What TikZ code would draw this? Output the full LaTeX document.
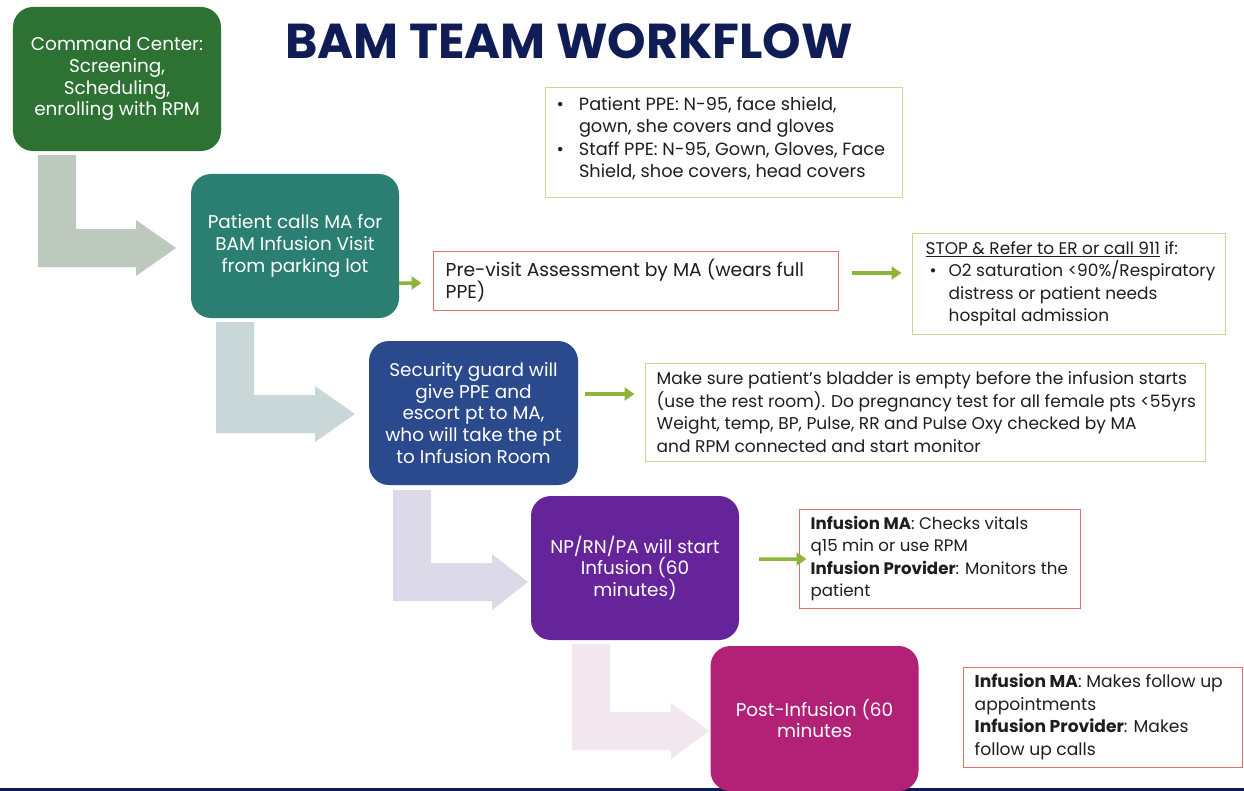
\documentclass[tikz,border=0pt]{standalone}
\usepackage{fontspec}
\setmainfont{Poppins}
\usetikzlibrary{calc,arrows.meta}

\definecolor{cmdgreen}{HTML}{2E7233}
\definecolor{callteal}{HTML}{2A7F72}
\definecolor{guardnavy}{HTML}{2B4A8E}
\definecolor{infpurple}{HTML}{66249B}
\definecolor{postmagenta}{HTML}{B22176}
\definecolor{titlenavy}{HTML}{101C56}
\definecolor{flowA}{HTML}{BEC9BE}
\definecolor{flowB}{HTML}{C9D7D8}
\definecolor{flowC}{HTML}{DCD9E8}
\definecolor{flowD}{HTML}{F2E7EE}
\definecolor{arrowgreen}{HTML}{8EB43C}
\definecolor{okgreen}{HTML}{C6D98F}
\definecolor{alertred}{HTML}{E27070}
\definecolor{linenavy}{HTML}{0E1A50}
\definecolor{textdark}{HTML}{1E1E1E}

% bent block arrow: #1 left x of shaft, #2 top y, #3 bottom y,
% #4 x where the head starts, #5 x of the tip, #6 colour
\newcommand{\bentarrow}[6]{%
  \fill[#6] (#1,#2) -- ({#1+38},#2) -- ({#1+38},{#3-38}) -- (#4,{#3-38})
    -- (#4,{#3-47}) -- (#5,{#3-19}) -- (#4,{#3+9}) -- (#4,#3) -- (#1,#3) -- cycle;}

\begin{document}
\begin{tikzpicture}[x=1bp,y=-1bp,
  stage/.style={fill=#1, rounded corners=20bp, minimum width=208bp,
    minimum height=144bp, text=white, align=center, inner sep=0pt,
    font=\fontsize{18.5}{21.8}\selectfont},
  notebox/.style={draw=#1, line width=1bp, fill=white, inner sep=0pt},
  notetext/.style={anchor=west, align=left, inner sep=0pt, text=textdark},
  ts/.style={font=\fontsize{#1}{22.6}\selectfont},
  garrow/.style={draw=arrowgreen, line width=3.5bp,
    -{Triangle[length=10bp,width=13bp]}},
]
\useasboundingbox (0,0) rectangle (1244,791);

% bottom rule
\fill[linenavy] (0,787.5) rectangle (1244,791);

% bent flow arrows between the stages
\bentarrow{38}{155}{267}{136}{176}{flowA}
\bentarrow{216}{322}{433}{315}{355}{flowB}
\bentarrow{393}{490}{601}{492}{528}{flowC}
\bentarrow{572}{644}{750}{671}{709}{flowD}

% title
\node[anchor=base, text=titlenavy, font=\fontsize{49.2}{56}\selectfont\bfseries]
  (title) at (569,59) {BAM TEAM WORKFLOW};

% workflow stages
\node[stage=cmdgreen] (cmd) at (117,79)
  {Command Center:\\Screening,\\Scheduling,\\enrolling with RPM};
\node[stage=callteal] (call) at (295,246)
  {Patient calls MA for\\BAM Infusion Visit\\from parking lot};
\node[stage=guardnavy, minimum width=209bp] (guard) at (473.5,413)
  {Security guard will\\give PPE and\\escort pt to MA,\\who will take the pt\\to Infusion Room};
\node[stage=infpurple] (infuse) at (635,568)
  {NP/RN/PA will start\\Infusion (60\\minutes)};
\node[stage=postmagenta, minimum height=145bp] (post) at (814.5,718.5)
  {Post-Infusion (60\\minutes};

% note boxes
\node[notebox=okgreen, minimum width=357bp, minimum height=109bp] (ppe) at (723.5,142.5) {};
\node[notetext, ts=17.8] (ppetext) at ($(ppe.west)+(12,-3)$)
  {\begin{tabular}{@{}l@{\hspace{15bp}}l@{}}
   \textbullet & Patient PPE: N-95, face shield,\\
               & gown, she covers and gloves\\
   \textbullet & Staff PPE: N-95, Gown, Gloves, Face\\
               & Shield, shoe covers, head covers
   \end{tabular}};

\node[notebox=alertred, minimum width=405bp, minimum height=59bp] (pre) at (635.5,280.5) {};
\node[notetext, ts=18.8] (pretext) at ($(pre.west)+(13,0)$)
  {Pre-visit Assessment by MA (wears full\\PPE)};

\node[notebox=okgreen, minimum width=313bp, minimum height=101bp] (stop) at (1068.5,283.5) {};
\node[notetext, ts=17] (stoptext) at ($(stop.west)+(14,0)$)
  {\begin{tabular}{@{\hspace{0bp}}l@{\hspace{12bp}}l@{}}
   \multicolumn{2}{@{}l@{}}{\underline{STOP \& Refer to ER or call 911} if:}\\
   \hspace{4bp}\textbullet & O2 saturation <90\%/Respiratory\\
               & distress or patient needs\\
               & hospital admission
   \end{tabular}};

\node[notebox=okgreen, minimum width=560bp, minimum height=98bp] (prep) at (925,412) {};
\node[notetext, ts=17.1] (preptext) at ($(prep.west)+(12,0)$)
  {Make sure patient’s bladder is empty before the infusion starts\\
   (use the rest room). Do pregnancy test for all female pts <55yrs\\
   Weight, temp, BP, Pulse, RR and Pulse Oxy checked by MA\\
   and RPM connected and start monitor};

\node[notebox=alertred, minimum width=281bp, minimum height=99bp] (watch) at (939.5,558.5) {};
\node[notetext, ts=16.7] (watchtext) at ($(watch.west)+(12,0)$)
  {\textbf{Infusion MA}: Checks vitals\\
   q15 min or use RPM\\
   \textbf{Infusion Provider}: Monitors the\\
   patient};

\node[notebox=alertred, minimum width=279bp, minimum height=100bp] (follow) at (1102.5,717) {};
\node[notetext, ts=17.2] (followtext) at ($(follow.west)+(12,0)$)
  {\textbf{Infusion MA}: Makes follow up\\
   appointments\\
   \textbf{Infusion Provider}: Makes\\
   follow up calls};

% green connectors
\draw[garrow] ($(call.east)+(0,37)$) -- ($(pre.west)+(-11,2.5)$);
\draw[garrow] ($(pre.east)+(13,-7.5)$) -- ($(stop.west)+(-10,-10.5)$);
\draw[garrow] ($(guard.east)+(7,-19)$) -- ($(prep.west)+(-10,-18)$);
\draw[garrow] ($(infuse.east)+(20,-9)$) -- ($(watch.west)+(8,0.5)$);
\end{tikzpicture}
\end{document}
